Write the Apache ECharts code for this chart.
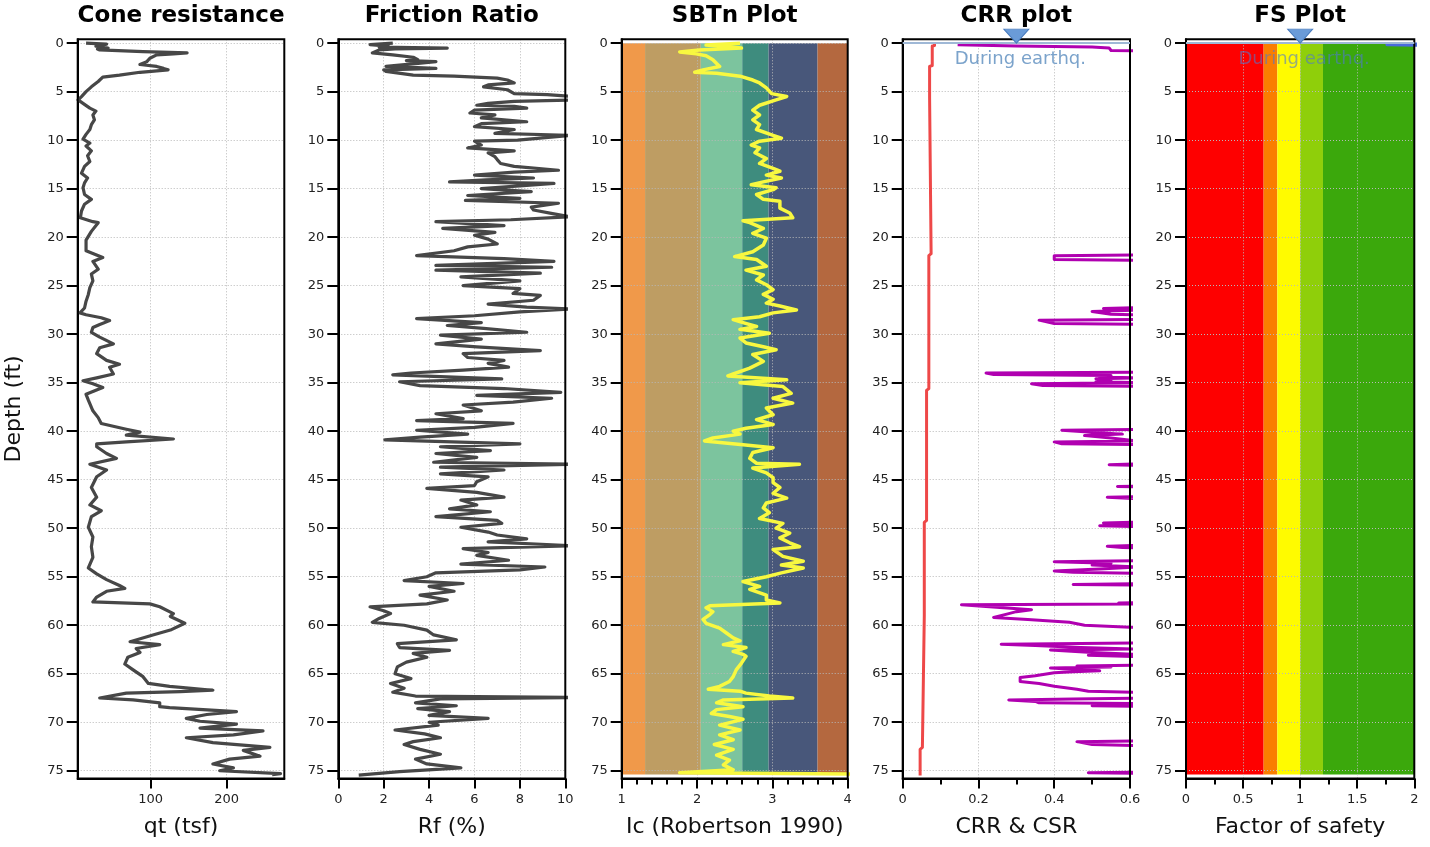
<!DOCTYPE html>
<html>
<head>
<meta charset="utf-8">
<script src="https://cdn.jsdelivr.net/npm/echarts@6/dist/echarts.min.js"></script>
<style>
  html, body { margin: 0; padding: 0; background: #ffffff; }
  #chart { width: 1430px; height: 847px; }
</style>
</head>
<body>
<div id="chart"></div>
<script>
// ---- CPT log data (depth in ft) ----
const depthTicks = [0, 5, 10, 15, 20, 25, 30, 35, 40, 45, 50, 55, 60, 65, 70, 75];

// Cone resistance qt (tsf)
const qtDepth = [0.0,0.1,0.3,0.5,0.6,0.7,0.87,1.0,1.1,1.2,1.55,1.9,2.2,2.4,2.6,2.75,3.0,3.3,3.5,3.95,4.5,5.0,5.5,5.85,6.2,6.7,7.0,7.4,7.9,8.4,8.9,9.4,9.9,10.3,10.6,11.1,11.6,12.2,12.7,13.4,13.9,14.4,14.9,15.6,16.1,16.6,17.3,18.0,18.4,18.5,19.4,20.3,21.4,22.1,22.5,23.3,23.8,24.5,25.2,25.9,26.6,27.3,27.8,28.0,28.3,28.6,29.0,29.3,29.8,30.3,31.0,31.4,32.0,32.7,33.1,33.4,34.1,34.5,34.8,35.1,35.5,36.2,36.8,37.9,38.6,39.2,39.8,40.1,40.4,40.8,41.1,41.3,41.6,42.3,42.8,43.4,44.0,44.7,45.8,46.8,47.6,48.2,48.8,49.9,50.9,51.9,53.0,54.1,54.7,55.3,55.9,56.2,56.5,57.1,57.6,57.8,58.1,58.8,59.1,59.8,60.5,61.0,61.7,62.0,62.4,62.8,63.3,64.0,64.6,65.3,66.0,66.3,66.7,66.85,67.0,67.5,67.7,68.0,68.4,68.5,68.7,68.9,69.2,69.6,69.9,70.2,70.6,70.9,71.3,71.6,72.1,72.6,72.9,73.5,73.8,74.3,74.7,75.0,75.3,75.4];
const qtValue = [15,42,28,44,30,33,90,148,130,108,99,95,86,108,117,123,86,59,37,31,22,15,9,4.5,11,20,28,24,26,22,20,15,11,20,15,22,17,20,13,9,17,13,11,13,22,13,9,7.5,24,31,22,15,15,37,24,31,22,24,20,18,15,13,7,15,35,46,33,24,22,33,51,33,29,42,59,46,51,29,11,24,37,15,18,24,31,35,68,86,68,130,68,29,29,42,55,20,42,29,22,29,20,35,22,18,24,22,24,18,29,42,59,66,42,29,24,99,112,130,126,145,126,103,73,112,81,86,70,66,77,90,97,125,182,139,68,33,77,112,112,125,169,213,174,147,165,213,165,248,209,147,182,257,222,244,204,182,209,191,271,260];

// Friction ratio Rf (%)
const rfDepth = [0.0,0.15,0.3,0.4,0.5,0.6,0.7,1.0,1.2,1.45,1.7,1.8,1.9,2.1,2.4,2.6,2.75,2.9,3.3,3.4,3.6,3.8,4.1,4.3,4.5,4.8,5.2,5.3,5.5,5.85,6.0,6.2,6.4,6.5,6.7,6.9,7.2,7.4,7.7,8.1,8.3,8.6,8.9,9.3,9.5,9.7,10.0,10.1,10.5,10.8,11.1,11.3,11.7,12.0,12.4,12.7,13.1,13.3,13.6,13.9,14.1,14.3,14.45,14.7,15.0,15.3,15.7,16.0,16.2,16.5,16.9,17.2,17.6,17.9,18.2,18.4,18.8,19.1,19.5,19.8,20.2,20.7,21.0,21.4,21.9,22.2,22.5,22.9,23.1,23.4,23.7,24.1,24.5,25.0,25.3,25.8,26.0,26.5,26.9,27.2,27.4,27.7,28.1,28.4,28.6,28.8,29.1,29.4,29.8,30.1,30.5,31.0,31.3,31.7,32.0,32.4,32.7,33.0,33.4,33.7,34.0,34.2,34.6,34.9,35.3,35.6,36.0,36.3,36.6,37.0,37.3,37.9,38.2,38.7,38.9,39.2,39.6,39.9,40.3,40.6,40.9,41.3,41.6,42.0,42.3,42.7,43.2,43.4,43.7,44.0,44.4,44.7,45.2,45.6,45.9,46.3,46.8,47.1,47.6,48.0,48.3,48.8,49.2,49.5,49.9,50.4,50.7,51.1,51.4,51.8,52.1,52.5,52.8,53.3,53.7,54.0,54.3,54.6,55.0,55.4,55.7,56.0,56.5,56.9,57.4,57.8,58.1,58.5,58.8,59.3,59.7,60.0,60.5,61.0,61.5,61.9,62.3,62.6,62.9,63.3,63.8,64.3,65.0,65.5,66.0,66.5,66.9,67.3,67.45,67.6,68.0,68.3,68.6,68.9,69.3,69.6,70.0,70.3,70.8,71.2,71.6,72.0,72.3,72.8,73.3,73.8,74.3,74.7,75.1,75.45];
const rfValue = [2.4,1.4,2.2,1.8,4.8,2.5,1.8,1.5,2.4,3.3,3.5,3.0,4.3,3.4,2.1,4.3,2.0,2.1,3.3,5.1,7.0,7.45,7.75,6.6,6.4,7.45,7.75,9.2,10.3,10.3,7.75,6.6,6.1,7.75,8.3,6.0,5.8,6.9,6.3,8.3,6.3,6.0,7.75,6.9,10.3,10.3,7.9,6.0,6.3,5.7,7.75,6.6,6.9,7.0,7.15,7.75,9.7,7.75,6.0,8.6,6.5,4.9,9.5,8.0,6.3,8.5,5.7,8.0,5.6,9.7,8.5,8.6,9.5,10.2,7.6,4.3,7.3,4.6,6.9,6.0,6.6,7.0,5.7,5.1,3.45,7.3,9.5,4.3,9.4,4.3,8.9,5.4,8.0,5.5,8.0,7.7,8.9,8.6,6.6,8.3,10.3,8.0,6.0,3.45,3.45,6.3,4.8,6.4,8.3,4.5,6.3,4.3,6.1,8.9,5.5,5.7,7.3,6.6,7.5,5.5,3.2,2.4,7.2,2.7,3.6,7.3,9.8,6.1,9.4,7.7,5.5,6.3,4.3,5.5,3.45,7.7,6.0,3.45,5.7,3.6,2.05,8.0,4.5,6.7,4.3,6.1,4.2,10.3,4.5,7.3,4.5,6.6,6.1,6.0,3.9,6.1,7.3,5.4,6.1,4.9,6.7,4.3,7.0,7.2,5.4,6.6,7.0,8.3,6.6,10.3,5.5,6.6,6.1,7.5,5.4,9.1,8.0,4.3,3.9,2.9,5.5,4.0,5.1,3.6,4.8,3.9,1.4,2.0,2.3,1.8,1.5,2.9,3.9,4.2,5.2,2.6,2.7,4.9,3.3,3.9,3.0,2.6,2.5,3.2,2.3,2.9,2.4,3.4,10.3,4.5,3.4,5.2,3.5,4.9,4.0,6.6,4.0,4.4,2.5,3.8,4.5,3.3,2.9,3.6,4.5,3.4,3.9,5.4,2.7,0.9];

// Soil behaviour type index Ic (Robertson 1990)
const icDepth = [0.0,0.2,0.5,0.7,0.9,1.1,1.3,1.7,2.1,2.4,2.75,3.0,3.1,3.4,3.8,4.1,4.6,5.2,5.5,5.85,6.4,6.9,7.4,7.9,8.4,8.9,9.5,9.8,10.1,10.5,10.8,11.3,11.9,12.4,12.9,13.2,13.6,13.9,14.3,14.6,14.9,15.1,15.6,16.1,16.3,17.0,17.5,18.0,18.3,18.5,19.1,19.6,20.1,20.8,21.5,22.0,22.3,23.0,23.4,23.9,24.4,24.9,25.4,25.9,26.4,26.8,27.1,27.5,27.8,28.2,28.5,28.8,29.2,29.5,29.9,30.4,30.9,31.3,31.6,32.1,32.8,33.5,34.1,34.3,34.7,35.0,35.4,36.1,36.6,37.1,37.6,38.3,38.8,39.3,39.7,40.0,40.3,40.7,41.0,41.4,41.7,42.2,42.8,43.3,43.4,43.8,44.3,44.8,45.3,45.8,46.4,46.9,47.4,47.9,48.4,49.0,49.5,50.0,50.5,51.0,51.5,51.9,52.2,52.9,53.4,53.8,54.1,54.6,55.0,55.5,56.0,56.3,56.9,57.4,57.7,58.0,58.2,58.6,58.9,59.4,59.8,60.3,60.8,61.3,61.6,62.0,62.3,62.7,63.0,63.2,63.9,64.6,65.3,65.8,66.3,66.6,66.8,67.0,67.3,67.5,67.7,68.0,68.4,68.7,69.1,69.4,69.7,70.3,70.8,71.3,71.8,72.3,72.8,73.4,73.9,74.4,74.9,75.2,75.35];
const icValue = [2.57,2.12,2.59,2.03,1.77,1.99,2.12,2.21,2.26,2.30,2.08,1.97,2.26,2.57,2.74,2.83,2.92,2.99,3.19,3.05,2.83,2.74,2.83,2.74,2.83,2.79,3.01,3.12,2.83,2.72,2.83,2.77,2.92,2.83,3.01,3.10,2.92,3.12,2.88,2.72,3.05,3.01,2.79,2.88,3.10,3.10,3.23,3.27,2.61,2.70,2.88,2.74,2.92,2.88,2.74,2.50,2.79,2.92,2.65,2.88,2.79,2.92,3.01,2.88,3.01,2.92,3.10,3.32,3.01,2.83,2.48,2.61,2.79,2.57,2.96,2.57,2.65,2.88,3.05,2.74,2.88,2.70,2.48,2.41,3.19,2.57,3.14,3.25,3.01,3.27,2.92,3.01,2.79,3.01,2.65,2.48,2.57,2.21,2.10,2.61,3.01,2.74,2.70,2.79,3.36,2.74,2.92,3.01,3.01,3.10,3.01,3.19,2.92,2.88,2.96,2.83,3.14,3.05,3.23,3.10,3.23,3.36,3.01,3.14,3.41,3.12,3.41,3.12,2.92,2.61,2.83,2.70,2.92,2.92,3.10,2.17,2.12,2.21,2.17,2.08,2.12,2.30,2.39,2.48,2.57,2.35,2.65,2.48,2.61,2.65,2.59,2.52,2.48,2.43,2.30,2.15,2.57,2.65,2.96,3.27,2.35,2.26,2.61,2.26,2.19,2.43,2.61,2.30,2.57,2.30,2.48,2.23,2.48,2.26,2.43,2.35,2.48,1.77,4.05];

// Cyclic resistance ratio (values past 0.6 run off the axis)
const crrDepth = [0.15,0.30,0.40,0.50,0.75,0.85,21.8,21.9,22.3,22.4,27.2,27.35,27.5,27.65,27.95,28.05,28.45,28.55,28.9,29.0,33.9,34.0,34.15,34.25,34.4,34.5,34.6,34.8,34.9,35.0,35.1,35.3,35.4,39.8,39.9,40.1,40.3,40.45,40.7,41.0,41.1,41.3,41.4,43.3,43.45,43.6,45.6,45.7,45.8,46.7,46.8,47.0,47.1,49.3,49.45,49.6,49.75,49.9,51.7,51.85,52.0,52.1,53.3,53.45,53.6,53.8,54.0,54.2,54.4,54.55,54.7,55.7,55.8,55.9,57.6,57.7,57.8,57.9,58.1,58.4,58.6,58.8,59.2,59.4,59.7,60.0,60.2,60.3,61.8,61.95,62.1,62.3,62.45,62.55,62.8,63.0,63.1,63.3,64.1,64.2,64.3,64.4,64.6,64.7,64.8,64.9,65.2,65.4,65.8,66.0,66.3,66.6,66.8,67.0,67.5,67.6,67.7,67.85,68.0,68.1,68.2,68.3,68.4,71.9,72.0,72.3,72.5,75.1,75.2,75.3];
const crrValue = [0.145,0.30,0.50,0.545,0.55,0.70,0.70,0.40,0.40,0.70,0.70,0.53,0.65,0.50,0.55,0.70,0.70,0.36,0.40,0.70,0.70,0.22,0.24,0.55,0.52,0.62,0.51,0.55,0.51,0.62,0.34,0.37,0.70,0.70,0.42,0.50,0.58,0.48,0.55,0.62,0.40,0.42,0.70,0.70,0.545,0.70,0.70,0.567,0.70,0.70,0.54,0.54,0.70,0.70,0.53,0.62,0.52,0.70,0.70,0.54,0.58,0.70,0.70,0.40,0.55,0.50,0.62,0.52,0.40,0.45,0.70,0.70,0.45,0.70,0.70,0.57,0.62,0.155,0.16,0.34,0.30,0.28,0.24,0.33,0.44,0.48,0.60,0.70,0.70,0.26,0.35,0.47,0.62,0.39,0.50,0.62,0.49,0.70,0.70,0.46,0.55,0.39,0.47,0.52,0.45,0.40,0.35,0.31,0.31,0.36,0.40,0.46,0.49,0.70,0.70,0.45,0.28,0.35,0.36,0.70,0.70,0.50,0.70,0.70,0.46,0.50,0.70,0.70,0.49,0.70];

// Cyclic stress ratio
const csrDepth = [0.0,0.25,0.3,2.3,2.4,5.6,5.8,21.7,21.9,35.6,35.8,49.2,49.4,59.0,59.2,72.6,72.8,75.5];
const csrValue = [0.084,0.084,0.078,0.078,0.071,0.071,0.075,0.075,0.069,0.069,0.063,0.063,0.057,0.057,0.052,0.052,0.046,0.046];

// Factor of safety (above 2 runs off the axis)
const fsDepth = [0.0, 0.15, 0.3];
const fsValue = [2.4, 1.76, 2.4];

// Groundwater level during the earthquake (ft)
const gwtDepth = 0;

// Soil behaviour zones (Ic boundaries) and factor-of-safety zones
const sbtBounds = [1, 1.31, 2.05, 2.6, 2.95, 3.6, 4];
const sbtColors = ['#F0994A', '#BE9D63', '#7CC49E', '#3E8C7E', '#48577A', '#B4683F'];
const fsBounds = [0, 0.68, 0.8, 1.0, 1.2, 2];
const fsColors = ['#FE0000', '#FA7E00', '#FFFB00', '#8FCF0A', '#3BA80C'];
const zoneDepth = [0, 75.4];

// Minor tick positions on the Ic, CRR and FS scales
const icMinor = [1.2, 1.4, 1.6, 1.8, 2.2, 2.4, 2.6, 2.8, 3.2, 3.4, 3.6, 3.8];
const crrMinor = [0.1, 0.3, 0.5];
const fsMinor = [0.25, 0.75, 1.25, 1.75];

const titles = ['Cone resistance', 'Friction Ratio', 'SBTn Plot', 'CRR plot', 'FS Plot'];
const xNames = ['qt (tsf)', 'Rf (%)', 'Ic (Robertson 1990)', 'CRR & CSR', 'Factor of safety'];

// ---- layout ----
const FONT = 'DejaVu Sans';
const plotTop = 39.3, plotHeight = 739.2;
const panels = [
  { left: 77.7, width: 206.6 },
  { left: 338.3, width: 227 },
  { left: 621.7, width: 226 },
  { left: 902.7, width: 227.3 },
  { left: 1186, width: 228.3 }
];

const pairs = (vals, depths) => vals.map((v, i) => [v, depths[i]]);

const gridLine = { show: true, lineStyle: { color: '#b8b8b8', width: 1, type: [1, 2] } };
const blackLine = { show: true, onZero: false, lineStyle: { color: '#000', width: 2 } };
const tickFont = { fontSize: 13, color: '#222', fontFamily: FONT };

const grids = panels.map(p => ({
  left: p.left, top: plotTop, width: p.width, height: plotHeight,
  show: true, backgroundColor: 'transparent', borderColor: '#000', borderWidth: 2,
  z: 3, outerBoundsMode: 'none', containLabel: false
}));

const yAxes = panels.map((p, i) => ({
  type: 'value', gridIndex: i, inverse: true, min: -0.4, max: 75.8,
  axisLine: blackLine,
  axisTick: { show: true, customValues: depthTicks, length: 11, lineStyle: { color: '#000', width: 2 } },
  axisLabel: Object.assign({ customValues: depthTicks, margin: 14 }, tickFont),
  splitLine: gridLine,
  name: i === 0 ? 'Depth (ft)' : '',
  nameLocation: 'middle', nameGap: 52, nameRotate: 90,
  nameTextStyle: { fontSize: 22, color: '#111', fontFamily: FONT }
}));

function xAxisBase(i, range) {
  return Object.assign({
    type: 'value', gridIndex: i, position: 'bottom',
    axisLine: blackLine,
    axisTick: { show: true, length: 10, lineStyle: { color: '#000', width: 2 } },
    axisLabel: Object.assign({ margin: 15 }, tickFont),
    splitLine: gridLine,
    name: xNames[i], nameLocation: 'middle', nameGap: 38,
    nameTextStyle: { fontSize: 22, color: '#111', fontFamily: FONT }
  }, range);
}

const xAxes = [
  xAxisBase(0, { min: 4, max: 276 }),
  xAxisBase(1, { min: 0, max: 10, interval: 2 }),
  xAxisBase(2, { min: 1, max: 4, interval: 1 }),
  xAxisBase(3, { min: 0, max: 0.6, interval: 0.2 }),
  xAxisBase(4, { min: 0, max: 2, interval: 0.5 })
];
// qt: range follows the data, ticks at 100 and 200 only
xAxes[0].axisTick.customValues = [100, 200];
xAxes[0].axisLabel.customValues = [100, 200];

// short minor ticks, drawn by a tick-only companion axis on the same grid
function minorAxis(i, min, max, values) {
  return {
    type: 'value', gridIndex: i, position: 'bottom', offset: 0, min: min, max: max,
    axisLine: { show: false, onZero: false },
    axisTick: { show: true, customValues: values, length: 6, lineStyle: { color: '#000', width: 2 } },
    axisLabel: { show: false }, splitLine: { show: false }
  };
}
xAxes.push(minorAxis(2, 1, 4, icMinor), minorAxis(3, 0, 0.6, crrMinor), minorAxis(4, 0, 2, fsMinor));

const titleComps = panels.map((p, i) => ({
  text: titles[i], left: p.left + p.width / 2 - 5, top: 0, textAlign: 'center',
  textStyle: { fontSize: 23, fontWeight: 'bold', color: '#000', fontFamily: FONT }
}));

function zones(bounds, colors) {
  return colors.map((c, i) => [
    { xAxis: bounds[i], yAxis: zoneDepth[0], itemStyle: { color: c, opacity: 1 } },
    { xAxis: bounds[i + 1], yAxis: zoneDepth[1] }
  ]);
}

function waterTable(xMark, labelColor) {
  return {
    markLine: {
      silent: true, symbol: 'none', z: 6,
      lineStyle: { color: '#9FB8D6', width: 2, type: 'solid', opacity: 1 },
      label: { show: true, position: 'insideMiddleBottom', formatter: 'During earthq.',
               color: labelColor, fontSize: 18, fontFamily: FONT, distance: 7, padding: [0, 0, 0, 8] },
      emphasis: { disabled: true },
      data: [{ yAxis: gwtDepth }]
    },
    markPoint: {
      silent: true, symbol: 'triangle', symbolSize: [25, 14], symbolRotate: 180, symbolOffset: [0, -7],
      z: 7,
      itemStyle: { color: '#6A9BD8', borderColor: '#4A7CBE', borderWidth: 1 },
      label: { show: false },
      data: [{ coord: [xMark, gwtDepth] }]
    }
  };
}

const lineBase = (i, color, width) => ({
  type: 'line', xAxisIndex: i, yAxisIndex: i, showSymbol: false, symbol: 'none',
  animation: false, silent: true, clip: true, z: 2,
  lineStyle: { color: color, width: width, join: 'round' }
});

const series = [
  Object.assign(lineBase(0, '#474747', 3.2), { data: pairs(qtValue, qtDepth) }),
  Object.assign(lineBase(1, '#474747', 3.2), { data: pairs(rfValue, rfDepth) }),
  Object.assign(lineBase(2, '#F8F840', 3.5), {
    data: pairs(icValue, icDepth),
    markArea: { silent: true, z: -1, label: { show: false }, data: zones(sbtBounds, sbtColors) }
  }),
  Object.assign(lineBase(3, '#EE4848', 3), { data: pairs(csrValue, csrDepth) }),
  Object.assign(lineBase(3, '#B000B0', 3), { data: pairs(crrValue, crrDepth) }, waterTable(0.3, '#7BA3CB')),
  Object.assign(lineBase(4, '#4A6BDD', 3), {
    data: pairs(fsValue, fsDepth),
    markArea: { silent: true, z: -1, label: { show: false }, data: zones(fsBounds, fsColors) }
  }, waterTable(1.0, 'rgba(80,120,205,0.6)'))
];

const chart = echarts.init(document.getElementById('chart'), null, { renderer: 'canvas' });
chart.setOption({
  animation: false,
  backgroundColor: '#ffffff',
  textStyle: { fontFamily: FONT },
  title: titleComps,
  grid: grids,
  xAxis: xAxes,
  yAxis: yAxes,
  series: series
});
</script>
</body>
</html>
